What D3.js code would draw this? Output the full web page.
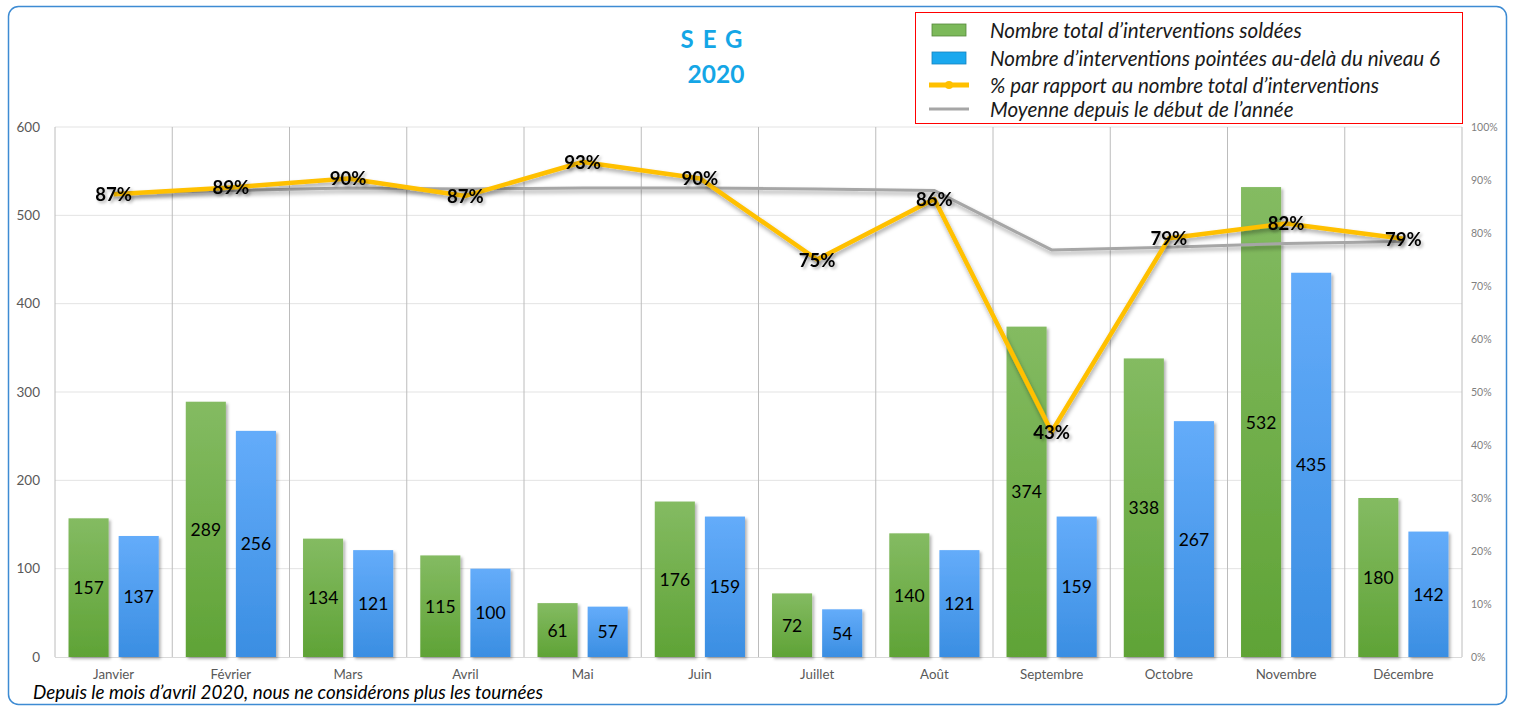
<!DOCTYPE html>
<html><head><meta charset="utf-8">
<script src="https://cdn.jsdelivr.net/npm/d3@7"></script>
<style>body{margin:0;background:#fff;}svg{display:block;font-family:Lato,"Open Sans",sans-serif;}</style>
</head><body>
<svg id="c" width="1517" height="708"></svg>
<script>
const months = ["Janvier","Février","Mars","Avril","Mai","Juin","Juillet","Août","Septembre","Octobre","Novembre","Décembre"];
const totalSoldees = [157,289,134,115,61,176,72,140,374,338,532,180];
const pointeesNiv6 = [137,256,121,100,57,159,54,121,159,267,435,142];
const pctValues = [87.3,88.6,90.3,87,93.4,90.3,75,86.4,42.5,79,81.8,78.9];
const pctLabels = ["87%","89%","90%","87%","93%","90%","75%","86%","43%","79%","82%","79%"];
const moyenne = [87.5,88,88.5,88.3,88.5,88.5,88.3,88,76.8,77.3,78,78.4];
const leftTicks = [0,100,200,300,400,500,600];
const rightTicks = [0,10,20,30,40,50,60,70,80,90,100];
const legendLabels = ["Nombre total d\u2019interventions soldées","Nombre d\u2019interventions pointées au-delà du niveau 6","% par rapport au nombre total d\u2019interventions","Moyenne depuis le début de l\u2019année"];

const svg = d3.select("#c");
const defs = svg.append("defs");
function grad(id, top, bot){
  const g = defs.append("linearGradient").attr("id",id).attr("x1",0).attr("y1",0).attr("x2",0).attr("y2",1);
  g.append("stop").attr("offset","0%").attr("stop-color",top);
  g.append("stop").attr("offset","100%").attr("stop-color",bot);
}
grad("gGreen","#84bb62","#5fa336");
grad("gBlue","#64acfa","#3a8ee2");
const sh = defs.append("filter").attr("id","sh").attr("x","-20%").attr("y","-20%").attr("width","150%").attr("height","150%");
sh.append("feDropShadow").attr("dx",2).attr("dy",2).attr("stdDeviation",1.5).attr("flood-color","#000").attr("flood-opacity",0.3);
const shl = defs.append("filter").attr("id","shl").attr("x","-5%").attr("y","-20%").attr("width","110%").attr("height","150%");
shl.append("feDropShadow").attr("dx",1).attr("dy",3).attr("stdDeviation",2).attr("flood-color","#000").attr("flood-opacity",0.35);

// frame
svg.append("rect").attr("x",8.5).attr("y",6.5).attr("width",1498).attr("height",698).attr("rx",10)
  .attr("fill","#fff").attr("stroke","#3d8bd3").attr("stroke-width",1.5);

const L=55, R=1462, T=127, B=657;
const x = d3.scaleBand().domain(months).range([L,R]).padding(0);
const xs = d3.scaleBand().domain(["g","b"]).range([0,x.bandwidth()]).paddingInner(0.2).paddingOuter(0.27);
const y = d3.scaleLinear().domain([0,600]).range([B,T]);
const yr = d3.scaleLinear().domain([0,100]).range([B,T]);

// horizontal grid
svg.append("g").selectAll("line").data(leftTicks.filter(d=>d>0)).join("line")
  .attr("x1",L).attr("x2",R).attr("y1",d=>y(d)).attr("y2",d=>y(d))
  .attr("stroke","#e3e3e3").attr("stroke-width",1);
// vertical separators
const seps = months.map(m=>x(m)).concat([R]);
svg.append("g").selectAll("line").data(seps).join("line")
  .attr("x1",d=>d).attr("x2",d=>d).attr("y1",T).attr("y2",B)
  .attr("stroke","#bcbcbc").attr("stroke-width",1);
svg.append("line").attr("x1",L).attr("x2",R).attr("y1",B+0.5).attr("y2",B+0.5).attr("stroke","#d9d9d9");

// left axis
const la = svg.append("g").attr("transform",`translate(${L-15},0)`).call(d3.axisLeft(y).tickValues(leftTicks).tickSize(0).tickPadding(0));
la.select(".domain").remove();
la.selectAll("text").attr("font-size",13.5).attr("fill","#595959").attr("font-family","Lato,sans-serif");
// right axis
const ra = svg.append("g").attr("transform",`translate(${R+9},0)`).call(d3.axisRight(yr).tickValues(rightTicks).tickSize(0).tickPadding(0).tickFormat(d=>d+"%"));
ra.select(".domain").remove();
ra.selectAll("text").attr("font-size",10.5).attr("fill","#7f7f7f").attr("font-family","Lato,sans-serif");
// x axis labels
const xa = svg.append("g").attr("transform",`translate(0,${B+11})`).call(d3.axisBottom(x).tickSize(0).tickPadding(0));
xa.select(".domain").remove();
xa.selectAll("text").attr("font-size",13.3).attr("fill","#595959").attr("font-family","Lato,sans-serif").attr("dy","0.85em");

// bars
const grp = svg.append("g").selectAll("g").data(months).join("g").attr("transform",m=>`translate(${x(m)},0)`);
grp.append("rect").attr("x",xs("g")).attr("width",xs.bandwidth())
  .attr("y",(m,i)=>y(totalSoldees[i])).attr("height",(m,i)=>B-y(totalSoldees[i]))
  .attr("fill","url(#gGreen)").attr("filter","url(#sh)");
grp.append("rect").attr("x",xs("b")).attr("width",xs.bandwidth())
  .attr("y",(m,i)=>y(pointeesNiv6[i])).attr("height",(m,i)=>B-y(pointeesNiv6[i]))
  .attr("fill","url(#gBlue)").attr("filter","url(#sh)");
grp.append("text").attr("x",xs("g")+xs.bandwidth()/2).attr("y",(m,i)=>(y(totalSoldees[i])+B)/2)
  .attr("text-anchor","middle").attr("dominant-baseline","central").attr("font-size",17.5).attr("fill","#000")
  .text((m,i)=>totalSoldees[i]);
grp.append("text").attr("x",xs("b")+xs.bandwidth()/2).attr("y",(m,i)=>(y(pointeesNiv6[i])+B)/2)
  .attr("text-anchor","middle").attr("dominant-baseline","central").attr("font-size",17.5).attr("fill","#000")
  .text((m,i)=>pointeesNiv6[i]);

// lines
const cx = m=>x(m)+x.bandwidth()/2;
const lineGen = d3.line().x(d=>d[0]).y(d=>d[1]);
svg.append("path").datum(months.map((m,i)=>[cx(m),yr(moyenne[i])]))
  .attr("d",lineGen).attr("fill","none").attr("stroke","#a6a6a6").attr("stroke-width",3).attr("filter","url(#shl)");
svg.append("path").datum(months.map((m,i)=>[cx(m),yr(pctValues[i])]))
  .attr("d",lineGen).attr("fill","none").attr("stroke","#ffc000").attr("stroke-width",4.5).attr("stroke-linejoin","round").attr("filter","url(#shl)");
svg.append("g").selectAll("text").data(months).join("text")
  .attr("x",m=>cx(m)).attr("y",(m,i)=>yr(pctValues[i]))
  .attr("text-anchor","middle").attr("dominant-baseline","central")
  .attr("font-size",18.5).attr("font-weight","bold").attr("fill","#000").attr("filter","url(#sh)")
  .text((m,i)=>pctLabels[i]);

// title
svg.append("text").attr("x",716).attr("y",48).attr("text-anchor","middle").attr("font-size",24).attr("font-weight","bold")
  .attr("fill","#14a6e6").attr("letter-spacing","9px").text("SEG");
svg.append("text").attr("x",716).attr("y",83).attr("text-anchor","middle").attr("font-size",24.5).attr("font-weight","bold")
  .attr("fill","#14a6e6").text("2020");

// legend
const lg = svg.append("g");
lg.append("rect").attr("x",915.5).attr("y",12.5).attr("width",547).attr("height",111).attr("fill","#fff").attr("stroke","#ff0000").attr("stroke-width",1);
const ly = [30,58,85,109];
lg.append("rect").attr("x",932).attr("y",ly[0]-6).attr("width",34).attr("height",12).attr("fill","#7cb95a").attr("stroke","#55883a").attr("stroke-width",0.8);
lg.append("rect").attr("x",932).attr("y",ly[1]-6).attr("width",34).attr("height",12).attr("fill","#1aa8ee").attr("stroke","#1682bd").attr("stroke-width",0.8);
lg.append("line").attr("x1",929).attr("x2",969).attr("y1",ly[2]).attr("y2",ly[2]).attr("stroke","#ffc000").attr("stroke-width",5);
lg.append("circle").attr("cx",949).attr("cy",ly[2]).attr("r",4).attr("fill","#ffc000");
lg.append("line").attr("x1",929).attr("x2",969).attr("y1",ly[3]).attr("y2",ly[3]).attr("stroke","#a6a6a6").attr("stroke-width",3);
lg.selectAll("text.l").data(legendLabels).join("text").attr("class","l")
  .attr("x",990).attr("y",(d,i)=>ly[i]).attr("dominant-baseline","central")
  .attr("font-size",20.6).attr("font-style","italic").attr("fill","#1a1a1a").text(d=>d);

// footer
svg.append("text").attr("x",33).attr("y",699).attr("font-size",18.8).attr("font-style","italic").attr("fill","#000")
  .text("Depuis le mois d\u2019avril 2020, nous ne considérons plus les tournées");
</script>
</body></html>
